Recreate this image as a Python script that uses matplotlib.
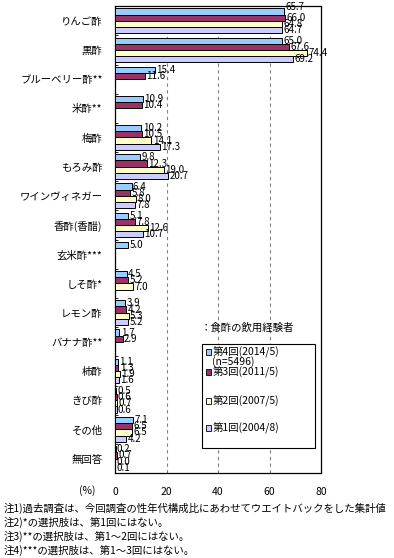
import numpy as np
import matplotlib
matplotlib.use("Agg")
import matplotlib.pyplot as plt
from matplotlib.patches import Rectangle

plt.rcParams['font.family'] = ['Noto Sans CJK JP', 'DejaVu Sans']

# data (%): 第4回, 第3回, 第2回, 第1回
categories = ["りんご酢", "黒酢", "ブルーベリー酢**", "米酢**", "梅酢", "もろみ酢",
              "ワインヴィネガー", "香酢(香醋)", "玄米酢***", "しそ酢*", "レモン酢",
              "バナナ酢**", "柿酢", "きび酢", "その他", "無回答"]
nan = np.nan
s4 = [65.7, 65.0, 15.4, 10.9, 10.2, 9.8, 6.4, 5.1, 5.0, 4.5, 3.9, 1.7, 1.1, 0.5, 7.1, 0.2]
s3 = [66.0, 67.6, 11.6, 10.4, 10.5, 12.3, 5.8, 7.8, nan, 5.2, 4.2, 2.9, 1.3, 0.6, 6.5, 0.7]
s2 = [64.8, 74.4, nan, nan, 14.1, 19.0, 8.0, 12.6, nan, 7.0, 5.3, nan, 1.9, 0.7, 6.5, 0.0]
s1 = [64.7, 69.2, nan, nan, 17.3, 20.7, 7.8, 10.7, nan, nan, 5.2, nan, 1.6, 0.6, 4.2, 0.1]
series = [s4, s3, s2, s1]
series_labels = ["第4回(2014/5)", "第3回(2011/5)", "第2回(2007/5)", "第1回(2004/8)"]
colors = ["#99CCFF", "#993366", "#FFFFCC", "#CCCCFF"]

xticks = [0, 20, 40, 60, 80]
notes = ["注1)過去調査は、今回調査の性年代構成比にあわせてウエイトバックをした集計値",
         "注2)*の選択肢は、第1回にはない。",
         "注3)**の選択肢は、第1～2回にはない。",
         "注4)***の選択肢は、第1～3回にはない。"]

fig = plt.figure(figsize=(3.94, 5.58), dpi=100)
ax = fig.add_axes([0.292, 0.152, 0.523, 0.837])

n = len(categories)
y = np.arange(n)
h = 0.85 / 4
for j, (vals, c) in enumerate(zip(series, colors)):
    vals = np.array(vals, dtype=float)
    pos = y + (j - 1.5) * h
    ok = ~np.isnan(vals)
    ax.barh(pos[ok], vals[ok], height=h, color=c, edgecolor='black',
            linewidth=0.7, zorder=3)
    for k, (p, v) in enumerate(zip(pos[ok], vals[ok])):
        dy = 3 if (j == 0 and k == 0) else 0  # top label sits a bit higher
        ax.annotate(f"{v:.1f}", (v, p), xytext=(1, dy), textcoords='offset points',
                    ha='left', va='center', fontsize=7, zorder=4)

ax.set_xlim(0, 80)
ax.set_ylim(n - 0.5, -0.5)
ax.set_xticks(xticks)
ax.set_xticklabels([str(t) for t in xticks], fontsize=7.5)
ax.tick_params(axis='x', length=0, pad=10)
ax.set_yticks(y)
ax.set_yticklabels(categories, fontsize=7.5)
ax.tick_params(axis='y', length=0, pad=9)
ax.set_yticks(np.arange(n + 1) - 0.5, minor=True)
ax.tick_params(axis='y', which='minor', direction='in', length=2, width=0.6)
for t in xticks[1:-1]:
    ax.axvline(t, color='#808080', linestyle=(0, (3, 3)), linewidth=0.8, zorder=1)
for s in ax.spines.values():
    s.set_linewidth(0.9)

ax.text(-0.135, -0.037, "(%)", transform=ax.transAxes, fontsize=7.5,
        ha='center', va='center')

# legend drawn by hand
ax.text(0.415, 0.311, "：食酢の飲用経験者", transform=ax.transAxes, fontsize=7.5,
        ha='left', va='center', zorder=6)
ax.add_patch(Rectangle((0.422, 0.054), 0.549, 0.223, transform=ax.transAxes,
                       facecolor='white', edgecolor='black', linewidth=0.8, zorder=5))
leg_y = [0.259, 0.216, 0.154, 0.096]
for ly, lab, c in zip(leg_y, series_labels, colors):
    ax.add_patch(Rectangle((0.441, ly - 0.0065), 0.027, 0.013, transform=ax.transAxes,
                           facecolor=c, edgecolor='black', linewidth=0.6, zorder=6))
    ax.text(0.472, ly, lab, transform=ax.transAxes, fontsize=7.5,
            ha='left', va='center', zorder=6)
ax.text(0.472, 0.240, "(n=5496)", transform=ax.transAxes, fontsize=7.5,
        ha='left', va='center', zorder=6)

for i, note in enumerate(notes):
    fig.text(0.01, 1 - (508 + 14 * i) / 558, note, fontsize=7.5, ha='left', va='center')

fig.savefig("out.png", dpi=100)
